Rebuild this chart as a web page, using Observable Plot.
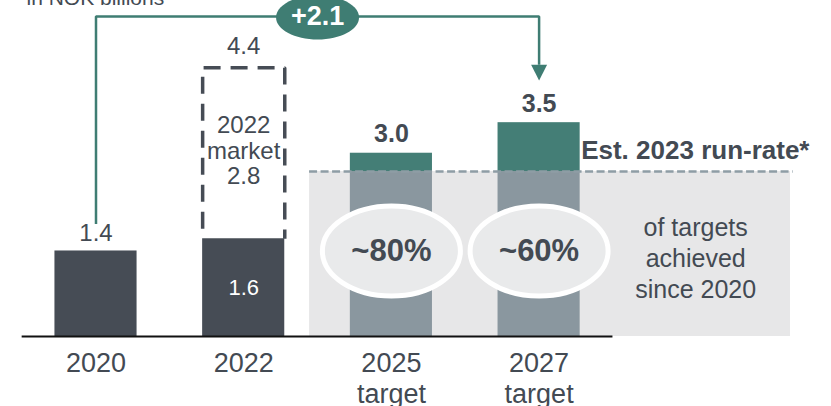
<!DOCTYPE html>
<html>
<head>
<meta charset="utf-8">
<script src="https://cdn.jsdelivr.net/npm/d3@7"></script>
<script src="https://cdn.jsdelivr.net/npm/@observablehq/plot@0.6"></script>
<style>
  html, body { margin: 0; padding: 0; background: #ffffff; }
  body { width: 831px; height: 406px; overflow: hidden; }
  svg { display: block; }
</style>
</head>
<body>
<script>
// ---- data ----
const categories = ["2020", "2022", "2025", "2027"];
const tickLabels = ["2020", "2022", "2025\ntarget", "2027\ntarget"];
const actualValues = [1.4, 1.6];          // 2020, 2022
const marketGap2022 = 2.8;                 // 2022 market potential on top of 1.6
const marketTotal2022 = 4.4;
const targetValues = [3.0, 3.5];          // 2025 target, 2027 target
const runRate2023 = 2.7;                   // est. 2023 run-rate
const achievedLabels = ["~80%", "~60%"];
const growthLabel = "+2.1";
const unitLabel = "in NOK billions";
const runRateLabel = "Est. 2023 run-rate*";
const achievedCaption = "of targets\nachieved\nsince 2020";

// ---- styles ----
const C = {
  dark: "#464c55",
  green: "#447e76",
  arrow: "#3f7d73",
  grey: "#8a979f",
  bg: "#e7e7e8",
  ellipse: "#e9eaeb",
  dash: "#8e9da5",
  text: "#434a53"
};
const FONT = "'Liberation Sans', Arial, Helvetica, sans-serif";
const half = 0.278; // half bar width in category-step units

// ---- tables ----
const actual = actualValues.map((v, i) => ({i, value: v, label: v.toFixed(1)}));
const targets = targetValues.map((v, k) => ({i: k + 2, value: v, label: v.toFixed(1), achieved: achievedLabels[k]}));
const ticks = categories.map((c, i) => ({i, label: tickLabels[i]}));
const base2022 = actual[1].value;
const box2022 = [
  {x: 1 - half, y: base2022}, {x: 1 - half, y: marketTotal2022},
  {x: 1 + half, y: marketTotal2022}, {x: 1 + half, y: base2022}
];
const shadeArea = [{x1: 1.446, x2: 4.702, y1: 0, y2: runRate2023}];
const arrowTop = 5.24;
const growthPath = [
  {x: 0, y: 1.84}, {x: 0, y: arrowTop}, {x: 3, y: arrowTop}, {x: 3, y: 4.45}
];

function ellipseSymbol(rx, ry) {
  const kx = rx * 0.5523, ky = ry * 0.5523;
  return {
    draw(ctx) {
      ctx.moveTo(rx, 0);
      ctx.bezierCurveTo(rx, ky, kx, ry, 0, ry);
      ctx.bezierCurveTo(-kx, ry, -rx, ky, -rx, 0);
      ctx.bezierCurveTo(-rx, -ky, -kx, -ry, 0, -ry);
      ctx.bezierCurveTo(kx, -ry, rx, -ky, rx, 0);
      ctx.closePath();
    }
  };
}
const downTriangle = {
  draw(ctx) { ctx.moveTo(-8, -7.8); ctx.lineTo(8, -7.8); ctx.lineTo(0, 7.8); ctx.closePath(); }
};

const chart = Plot.plot({
  width: 831,
  height: 406,
  margin: 0,
  style: {fontFamily: FONT, background: "#ffffff", color: C.text},
  x: {type: "linear", domain: [-0.6466, 4.9797], range: [0, 831], axis: null},
  y: {domain: [0, 5.5], range: [336, 0], axis: null},
  marks: [
    // shaded "achieved" area up to run-rate
    Plot.rect(shadeArea, {x1: "x1", x2: "x2", y1: "y1", y2: "y2", fill: C.bg}),
    // actual bars
    Plot.rect(actual, {x1: d => d.i - half, x2: d => d.i + half, y1: 0, y2: "value", fill: C.dark}),
    // target bars: achieved part + remaining part
    Plot.rect(targets, {x1: d => d.i - half, x2: d => d.i + half, y1: 0, y2: () => runRate2023, fill: C.grey}),
    Plot.rect(targets, {x1: d => d.i - half, x2: d => d.i + half, y1: () => runRate2023, y2: "value", fill: C.green}),
    // dashed 2022 market box
    Plot.line(box2022, {x: "x", y: "y", stroke: C.dark, strokeWidth: 3.5, strokeDasharray: "17,10",
      strokeDashoffset: 17, strokeLinejoin: "miter", strokeLinecap: "butt"}),
    // baseline
    Plot.ruleY([0], {x1: -0.5, x2: 3.5, stroke: "#111111", strokeWidth: 2}),
    // run-rate dashed line
    Plot.ruleY([runRate2023], {x1: 1.446, x2: 4.72, stroke: C.dash, strokeWidth: 2.5, strokeDasharray: "8,3.5"}),
    // achievement ellipses
    Plot.dot(targets, {x: "i", y: () => 1.4, symbol: ellipseSymbol(69, 45), r: 10,
      fill: C.ellipse, stroke: "#ffffff", strokeWidth: 5}),
    Plot.text(targets, {x: "i", y: () => 1.4, text: "achieved", fontSize: 31, fontWeight: "bold", fill: C.text}),
    // growth arrow
    Plot.line(growthPath, {x: "x", y: "y", stroke: C.arrow, strokeWidth: 2.5, strokeLinejoin: "miter", strokeLinecap: "butt"}),
    Plot.dot([{x: 3, y: 4.32}], {x: "x", y: "y", symbol: downTriangle, r: 8, fill: C.arrow, stroke: "none"}),
    Plot.dot([{x: 1.5, y: arrowTop}], {x: "x", y: "y", symbol: ellipseSymbol(41.5, 22), r: 10, fill: C.arrow, stroke: "none", dy: 1}),
    Plot.text([growthLabel], {x: () => 1.5, y: () => arrowTop, text: d => d, fontSize: 27, fontWeight: "bold", fill: "#ffffff"}),
    // value labels
    Plot.text([actual[0]], {x: "i", y: "value", text: "label", dy: -18, fontSize: 24, fill: C.text}),
    Plot.text([actual[1]], {x: "i", y: d => d.value / 2, text: "label", fontSize: 22, fill: "#ffffff"}),
    Plot.text([{i: 1, value: marketTotal2022}], {x: "i", y: "value", text: d => d.value.toFixed(1), dy: -21, fontSize: 24, fill: C.text}),
    Plot.text([{i: 1, y: base2022 + marketGap2022 / 2}], {x: "i", y: "y",
      text: () => "2022\nmarket\n" + marketGap2022.toFixed(1), dy: -3, fontSize: 24, lineHeight: 1.08, fill: C.text}),
    Plot.text(targets, {x: "i", y: "value", text: "label", dy: -19, fontSize: 25, fontWeight: "bold", fill: C.text}),
    // run-rate label
    Plot.text([runRateLabel], {x: () => 3 + half, y: () => runRate2023, text: d => d, dx: 1, dy: -13,
      textAnchor: "start", lineAnchor: "bottom", fontSize: 26, fontWeight: "bold", fill: C.text}),
    // caption on the right
    Plot.text([achievedCaption], {x: () => 4.06, y: () => 1.3, text: d => d, fontSize: 25, lineHeight: 1.24, fill: C.text}),
    // category tick labels
    Plot.text(ticks, {x: "i", y: () => 0, text: "label", dy: 13, lineAnchor: "top", fontSize: 27, lineHeight: 1.15, fill: C.text}),
    // unit label
    Plot.text([unitLabel], {frameAnchor: "top-left", text: d => d, dx: 26, dy: 4, lineAnchor: "bottom",
      textAnchor: "start", fontSize: 21, fill: C.text})
  ]
});
document.body.append(chart);
</script>
</body>
</html>
